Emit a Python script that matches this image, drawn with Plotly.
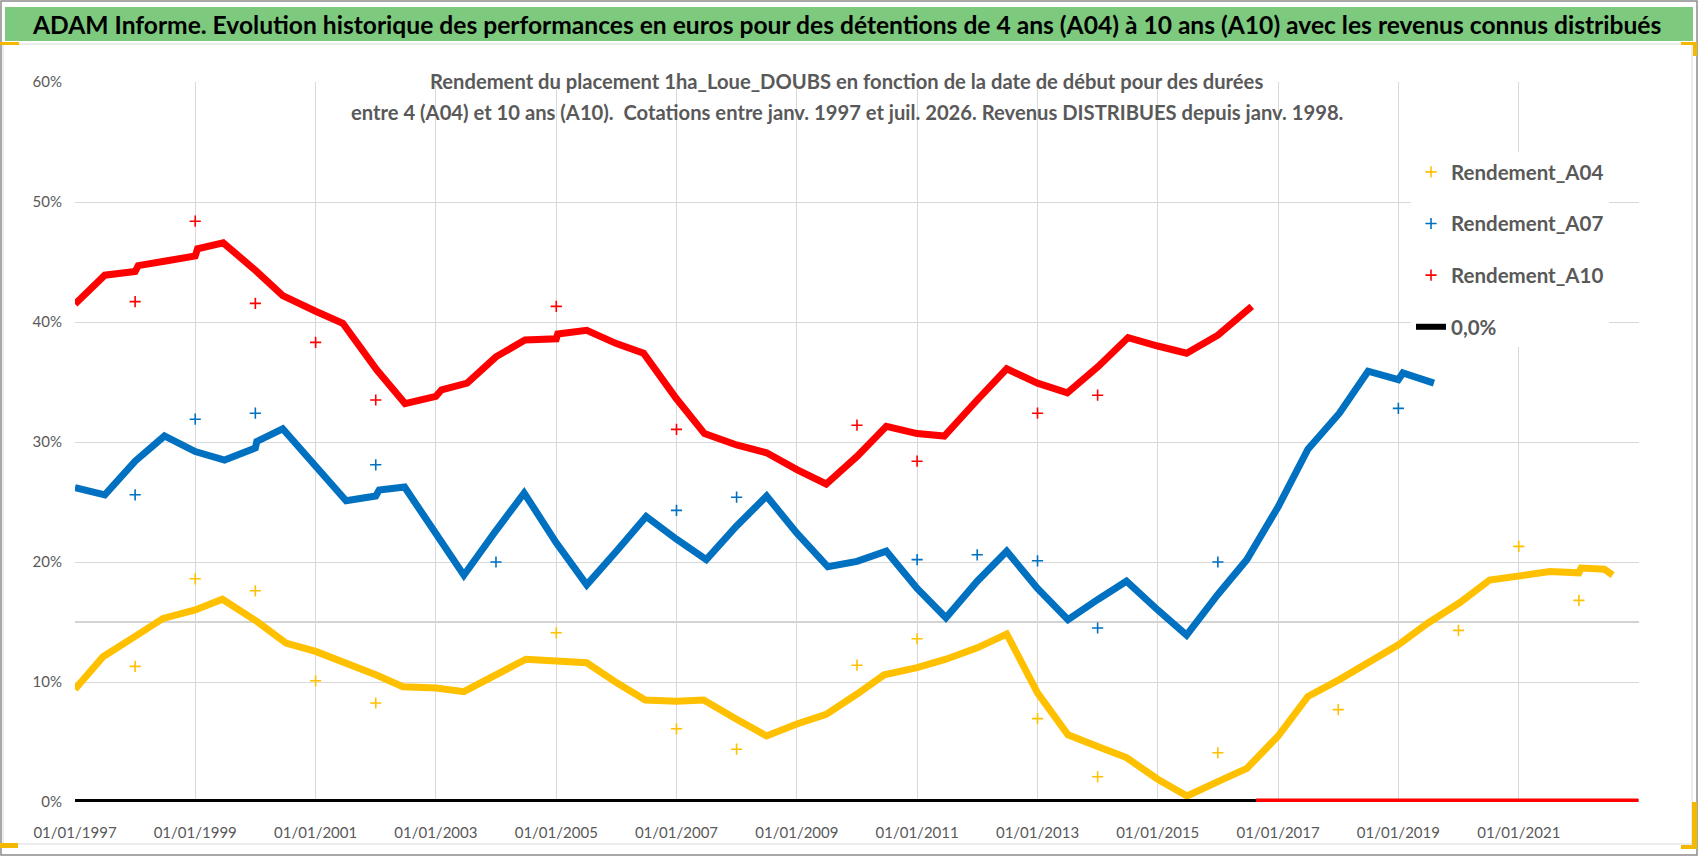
import plotly.graph_objects as go

# ---------------- DATA ----------------
a04_dates = ["1997-01-01","1997-06-20","1998-01-01","1998-06-20","1999-01-01","1999-06-15","2000-01-10",
             "2000-07-05","2001-01-01","2001-07-05","2002-01-01","2002-06-15","2003-01-01","2003-06-20",
             "2003-12-15","2004-07-01","2005-01-01","2005-07-05","2006-01-01","2006-06-25","2007-01-01",
             "2007-06-15","2008-01-01","2008-07-01","2009-01-01","2009-06-28","2010-01-01","2010-06-15",
             "2011-01-01","2011-06-25","2012-01-01","2012-06-28","2013-01-01","2013-07-05","2014-01-05",
             "2014-06-25","2015-01-01","2015-06-28","2016-01-01","2016-06-25","2017-01-01","2017-07-01",
             "2018-01-08","2018-07-01","2019-01-01","2019-06-28","2020-01-08","2020-07-08","2021-01-01",
             "2021-07-08","2022-01-01","2022-01-15","2022-06-05","2022-07-25"]
a04_values = [9.4,12.1,13.8,15.3,16.0,16.9,15.05,13.25,12.55,11.6,10.6,9.6,9.5,9.2,10.5,11.9,11.75,11.6,
              9.95,8.5,8.4,8.5,6.9,5.5,6.5,7.3,9.0,10.6,11.2,11.9,12.85,14.0,9.1,5.6,4.6,3.7,1.9,0.5,
              1.7,2.8,5.5,8.8,10.2,11.6,13.1,14.9,16.6,18.5,18.9,19.2,19.1,19.5,19.4,18.9]
a04_spike_dates = ["1998-01-01","1999-01-01","2000-01-01","2001-01-01","2002-01-01","2005-01-01",
                   "2007-01-01","2008-01-01","2010-01-01","2011-01-01","2013-01-01","2014-01-01",
                   "2016-01-01","2018-01-01","2020-01-01","2021-01-01","2022-01-01"]
a04_spike_values = [11.3,18.6,17.6,10.1,8.25,14.1,6.1,4.4,11.4,13.6,6.95,2.1,4.1,7.7,14.3,21.3,16.8]

a07_dates = ["1997-01-01","1997-07-01","1998-01-01","1998-06-28","1999-01-01","1999-06-28","2000-01-01",
             "2000-01-10","2000-06-15","2001-01-01","2001-07-05","2002-01-01","2002-01-22","2002-06-25",
             "2003-01-01","2003-06-20","2003-12-20","2004-06-20","2005-01-01","2005-07-05","2006-01-01",
             "2006-07-01","2007-01-01","2007-07-01","2008-01-01","2008-07-01","2009-01-01","2009-07-08",
             "2010-01-01","2010-06-28","2011-01-01","2011-06-25","2012-01-01","2012-06-28","2013-01-01",
             "2013-07-05","2014-01-05","2014-06-25","2015-01-01","2015-06-25","2016-01-01","2016-06-25",
             "2017-01-01","2017-07-01","2018-01-08","2018-07-01","2019-01-01","2019-01-28","2019-08-05"]
a07_values = [26.2,25.6,28.4,30.5,29.2,28.5,29.5,30.05,31.1,28.0,25.1,25.5,26.0,26.25,22.3,18.9,22.4,
              25.75,21.6,18.1,20.9,23.8,21.9,20.2,23.0,25.5,22.4,19.6,20.05,20.9,17.8,15.35,18.4,20.9,
              17.8,15.2,16.9,18.4,16.0,13.9,17.3,20.2,24.6,29.4,32.4,35.9,35.2,35.75,34.9]
a07_spike_dates = ["1998-01-01","1999-01-01","2000-01-01","2002-01-01","2004-01-01","2007-01-01",
                   "2008-01-01","2011-01-01","2012-01-01","2013-01-01","2014-01-01","2016-01-01","2019-01-01"]
a07_spike_values = [25.6,31.9,32.4,28.1,20.0,24.3,25.4,20.2,20.6,20.1,14.5,20.0,32.8]

a10_dates = ["1997-01-01","1997-07-01","1998-01-01","1998-01-20","1998-07-15","1999-01-01","1999-01-15",
             "1999-06-20","2000-01-10","2000-06-15","2001-01-01","2001-06-15","2002-01-08","2002-06-28",
             "2003-01-01","2003-02-05","2003-07-10","2004-01-01","2004-06-25","2005-01-01","2005-01-10",
             "2005-07-05","2006-01-01","2006-06-15","2007-01-01","2007-06-20","2008-01-01","2008-07-01",
             "2009-01-01","2009-06-28","2010-01-01","2010-06-28","2011-01-01","2011-06-15","2012-01-01",
             "2012-06-28","2013-01-01","2013-07-01","2014-01-05","2014-07-05","2015-01-01","2015-06-25",
             "2016-01-01","2016-07-25"]
a10_values = [41.5,43.9,44.2,44.7,45.1,45.5,46.1,46.6,44.2,42.2,40.9,39.9,36.0,33.2,33.8,34.35,34.9,
              37.1,38.5,38.6,39.0,39.3,38.2,37.4,33.6,30.7,29.75,29.1,27.7,26.5,28.8,31.3,30.7,30.5,
              33.5,36.1,34.9,34.1,36.3,38.7,38.0,37.4,38.9,41.3]
a10_spike_dates = ["1998-01-01","1999-01-01","2000-01-01","2001-01-01","2002-01-01","2005-01-01",
                   "2007-01-01","2010-01-01","2011-01-01","2013-01-01","2014-01-01"]
a10_spike_values = [41.7,48.4,41.55,38.3,33.5,41.3,31.05,31.4,28.4,32.4,33.9]
# after the end of the A10 window the series is reported at 0
a10_zero_dates = ["2016-08-20","2022-12-28"]
a10_zero_values = [0, 0]

zero_dates = ["1997-01-01","2022-12-28"]
zero_values = [0, 0]

x_tick_dates = ["1997-01-01","1999-01-01","2001-01-01","2003-01-01","2005-01-01","2007-01-01",
                "2009-01-01","2011-01-01","2013-01-01","2015-01-01","2017-01-01","2019-01-01","2021-01-01"]
x_tick_labels = ["01/01/1997","01/01/1999","01/01/2001","01/01/2003","01/01/2005","01/01/2007",
                 "01/01/2009","01/01/2011","01/01/2013","01/01/2015","01/01/2017","01/01/2019","01/01/2021"]
y_tick_values = [0, 10, 20, 30, 40, 50, 60]
y_tick_labels = ["0%", "10%", "20%", "30%", "40%", "50%", "60%"]

title_text = ("ADAM Informe. Evolution historique des performances en euros pour des détentions "
              "de 4 ans (A04) à 10 ans (A10) avec les revenus connus distribués")
subtitle_1 = "Rendement du placement 1ha_Loue_DOUBS en fonction de la date de début pour des durées"
subtitle_2 = ("entre 4 (A04) et 10 ans (A10).  Cotations entre janv. 1997 et juil. 2026. "
              "Revenus DISTRIBUES depuis janv. 1998.")

# ---------------- STYLE ----------------
YEL, BLU, RED = "#FFC000", "#0070C0", "#FF0000"
GRAY_TXT = "#595959"
FONT = "Lato, Roboto, sans-serif"
W, H = 1698, 856
L, R, T, B = 75, 1639, 82, 802


def px(x):
    return (x - L) / (R - L)


def py(y):
    return (B - y) / (B - T)


fig = go.Figure()

line_w = 7
fig.add_trace(go.Scatter(x=a04_dates, y=a04_values, mode="lines", line=dict(color=YEL, width=line_w),
                         showlegend=False, hoverinfo="skip"))
fig.add_trace(go.Scatter(x=a07_dates, y=a07_values, mode="lines", line=dict(color=BLU, width=line_w),
                         showlegend=False, hoverinfo="skip"))
fig.add_trace(go.Scatter(x=a10_dates, y=a10_values, mode="lines", line=dict(color=RED, width=line_w),
                         showlegend=False, hoverinfo="skip"))
fig.add_trace(go.Scatter(x=zero_dates, y=zero_values, mode="lines", name="0,0%",
                         line=dict(color="black", width=6), legendrank=4, legendgroup="g4"))
fig.add_trace(go.Scatter(x=a10_zero_dates, y=a10_zero_values, mode="lines", line=dict(color=RED, width=7),
                         showlegend=False, hoverinfo="skip"))

mk = dict(symbol="cross-thin", size=8)
fig.add_trace(go.Scatter(x=a04_spike_dates, y=a04_spike_values, mode="markers", name="Rendement_A04",
                         marker=dict(**mk, color=YEL, line=dict(color=YEL, width=1.6)),
                         legendrank=1, legendgroup="g1"))
fig.add_trace(go.Scatter(x=a07_spike_dates, y=a07_spike_values, mode="markers", name="Rendement_A07",
                         marker=dict(**mk, color=BLU, line=dict(color=BLU, width=1.6)),
                         legendrank=2, legendgroup="g2"))
fig.add_trace(go.Scatter(x=a10_spike_dates, y=a10_spike_values, mode="markers", name="Rendement_A10",
                         marker=dict(**mk, color=RED, line=dict(color=RED, width=1.6)),
                         legendrank=3, legendgroup="g3"))

shapes = []
# outer frame
shapes.append(dict(type="rect", xref="paper", yref="paper", x0=px(1), x1=px(1697), y0=py(1), y1=py(855),
                   line=dict(color="#8C8C8C", width=1.5), fillcolor="rgba(0,0,0,0)", layer="above"))
# green title band
shapes.append(dict(type="rect", xref="paper", yref="paper", x0=px(5), x1=px(1693), y0=py(7), y1=py(41),
                   line=dict(width=0), fillcolor="#7DC97E", layer="below"))
# chart-area border
shapes.append(dict(type="rect", xref="paper", yref="paper", x0=px(3), x1=px(1692), y0=py(44), y1=py(844),
                   line=dict(color="#D9D9D9", width=1), fillcolor="rgba(0,0,0,0)", layer="below"))
# white boxes behind subtitle and legend (hide gridlines)
shapes.append(dict(type="rect", xref="paper", yref="paper", x0=px(347), x1=px(1343), y0=py(58), y1=py(137),
                   line=dict(width=0), fillcolor="white", layer="between"))
shapes.append(dict(type="rect", xref="paper", yref="paper", x0=px(1383), x1=px(1639), y0=py(148), y1=py(345),
                   line=dict(width=0), fillcolor="white", layer="between"))
# darker horizontal line at 15%
shapes.append(dict(type="line", xref="paper", yref="y", x0=0, x1=1, y0=15, y1=15,
                   line=dict(color="#C4C4C4", width=1.3), layer="between"))
# yellow selection handles
HND = "#F5B800"
for (x0, y0, x1, y1) in [(0, 42, 19, 45), (1681, 42, 1697, 45), (1693, 42, 1697, 56),
                         (0, 843, 18, 848), (1681, 845, 1697, 849), (1692, 802, 1697, 849)]:
    shapes.append(dict(type="rect", xref="paper", yref="paper", x0=px(x0), x1=px(x1), y0=py(y0), y1=py(y1),
                       line=dict(width=0), fillcolor=HND, layer="above"))

annotations = [
    dict(text=title_text, xref="paper", yref="paper", x=px(846), y=py(24), xanchor="center", yanchor="middle",
         showarrow=False, font=dict(family=FONT, size=24.6, color="black", weight="bold")),
    dict(text=subtitle_1, xref="paper", yref="paper", x=px(846), y=py(81), xanchor="center", yanchor="middle",
         showarrow=False, font=dict(family=FONT, size=20.2, color=GRAY_TXT, weight="bold")),
    dict(text=subtitle_2, xref="paper", yref="paper", x=px(847), y=py(112), xanchor="center", yanchor="middle",
         showarrow=False, font=dict(family=FONT, size=20.2, color=GRAY_TXT, weight="bold")),
]

fig.update_layout(
    width=W, height=H,
    margin=dict(l=L, r=W - R, t=T, b=H - B, pad=0),
    paper_bgcolor="white", plot_bgcolor="white",
    font=dict(family=FONT, color=GRAY_TXT),
    shapes=shapes, annotations=annotations,
    showlegend=True,
    legend=dict(x=px(1411), y=py(152), xanchor="left", yanchor="top",
                bgcolor="white", borderwidth=0, traceorder="grouped", tracegroupgap=22,
                font=dict(family=FONT, size=20.5, color=GRAY_TXT, weight="bold")),
    xaxis=dict(type="date", range=["1997-01-01", "2023-01-01"], tickmode="array",
               tickvals=x_tick_dates, ticktext=x_tick_labels, showgrid=True, gridcolor="#D9D9D9",
               gridwidth=1, zeroline=False, showline=False, ticks="", ticklabelstandoff=20,
               tickfont=dict(family=FONT, size=15, color=GRAY_TXT)),
    yaxis=dict(range=[0, 60], tickmode="array", tickvals=y_tick_values, ticktext=y_tick_labels,
               showgrid=True, gridcolor="#D9D9D9", gridwidth=1, zeroline=False, showline=False,
               ticks="", ticklabelstandoff=12, tickfont=dict(family=FONT, size=15, color=GRAY_TXT)),
)

fig.write_html("out.html", config={"displayModeBar": False},
               post_script="document.body.style.margin='0';document.body.style.overflow='hidden';")
